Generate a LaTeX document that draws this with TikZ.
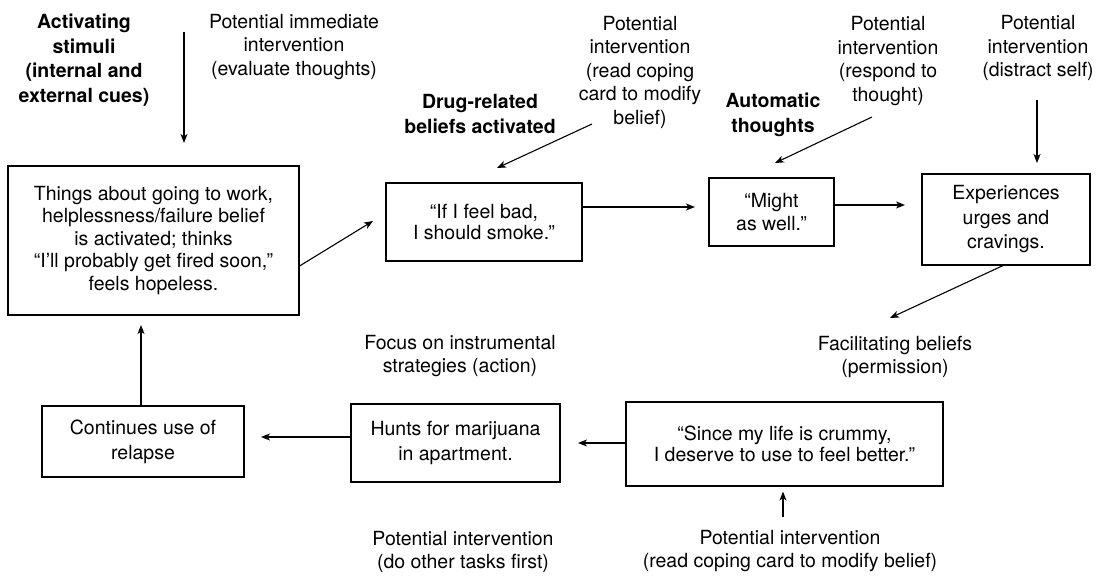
\documentclass[tikz,border=0pt]{standalone}
\usepackage{fontspec}
\setmainfont{TeX Gyre Heros}
\usetikzlibrary{arrows.meta}
\begin{document}
\begin{tikzpicture}[x=1pt,y=-1pt,
  every node/.style={font=\fontsize{19.5}{23.5}\selectfont, align=center, inner sep=0pt},
  box/.style={draw, line width=1.1pt, fill=white},
  lbl/.style={},
  blbl/.style={font=\fontsize{19.5}{24.5}\selectfont\bfseries},
  arr/.style={line width=1.1pt, -{Stealth[length=9pt,width=7pt,inset=2.5pt]}}]
\useasboundingbox (0,0) rectangle (1097,577);

% boxes
\node[box, minimum width=291pt, minimum height=149pt, font=\fontsize{19.5}{22.5}\selectfont] (b1) at (153.5,240.5)
  {Things about going to work,\\helplessness/failure belief\\is activated; thinks\\“I'll probably get fired soon,”\\feels hopeless.};
\node[box, minimum width=196pt, minimum height=78pt, font=\fontsize{19.5}{21}\selectfont] (smoke) at (484,222)
  {“If I feel bad,\\I should smoke.”};
\node[box, minimum width=125pt, minimum height=68pt, font=\fontsize{19.5}{23}\selectfont] (might) at (771.5,212)
  {“Might\\as well.”};
\node[box, minimum width=168pt, minimum height=91pt, font=\fontsize{19.5}{24.5}\selectfont] (exp) at (1006,219.5)
  {Experiences\\urges and\\cravings.};
\node[box, minimum width=317pt, minimum height=84pt, font=\fontsize{19.5}{21}\selectfont] (since) at (784.5,444)
  {“Since my life is crummy,\\I deserve to use to feel better.”};
\node[box, minimum width=209pt, minimum height=78pt, font=\fontsize{19.5}{25}\selectfont] (hunts) at (455.5,443)
  {Hunts for marijuana\\in apartment.};
\node[box, minimum width=202pt, minimum height=71pt, font=\fontsize{19.5}{25}\selectfont] (cont) at (143,441.5)
  {Continues use of\\relapse};

% labels
\node[blbl] (l1) at (84,60) {Activating\\stimuli\\(internal and\\external cues)};
\node[lbl] (l2) at (294,47) {Potential immediate\\intervention\\(evaluate thoughts)};
\node[blbl] (l3) at (480,114) {Drug-related\\beliefs activated};
\node[lbl] (l4) at (640,72) {Potential\\intervention\\(read coping\\card to modify\\belief)};
\node[blbl] (l5) at (773,115) {Automatic\\thoughts};
\node[lbl] (l6) at (888,61) {Potential\\intervention\\(respond to\\thought)};
\node[lbl] (l7) at (1038,48) {Potential\\intervention\\(distract self)};
\node[lbl] (l8) at (895,357) {Facilitating beliefs\\(permission)};
\node[lbl] (l9) at (460,356) {Focus on instrumental\\strategies (action)};
\node[lbl] (l10) at (463,552) {Potential intervention\\(do other tasks first)};
\node[lbl] (l11) at (790,551) {Potential intervention\\(read coping card to modify belief)};

% free ends
\coordinate (a1s) at (184,32);
\coordinate (a1t) at (184,143);
\coordinate (a2t) at (373,221);
\coordinate (a3s) at (592,124);
\coordinate (a3t) at (497,168);
\coordinate (a4t) at (695,207);
\coordinate (a5s) at (872,117);
\coordinate (a5t) at (775,163);
\coordinate (a6t) at (905,205);
\coordinate (a7s) at (1037,100);
\coordinate (a7t) at (1037,163);
\coordinate (a8t) at (890,318);
\coordinate (a9s) at (783,517);
\coordinate (a10t) at (578,443);
\coordinate (a11t) at (261,437);
\coordinate (a12t) at (141,325);

% connectors
\draw[arr] (a1s) -- (a1t);
\draw[arr] ([yshift=-25.5pt]b1.east) -- (a2t);
\draw[arr] (a3s) -- (a3t);
\draw[arr] (smoke.east |- a4t) -- (a4t);
\draw[arr] (a5s) -- (a5t);
\draw[arr] (might.east |- a6t) -- (a6t);
\draw[arr] (a7s) -- (a7t);
\draw[arr] ([xshift=-3pt]exp.south) -- (a8t);
\draw[arr, shorten >=5pt] (a9s) -- (since.south -| a9s);
\draw[arr] (since.west |- a10t) -- (a10t);
\draw[arr] (hunts.west |- a11t) -- (a11t);
\draw[arr] (cont.north -| a12t) -- (a12t);
\end{tikzpicture}
\end{document}
